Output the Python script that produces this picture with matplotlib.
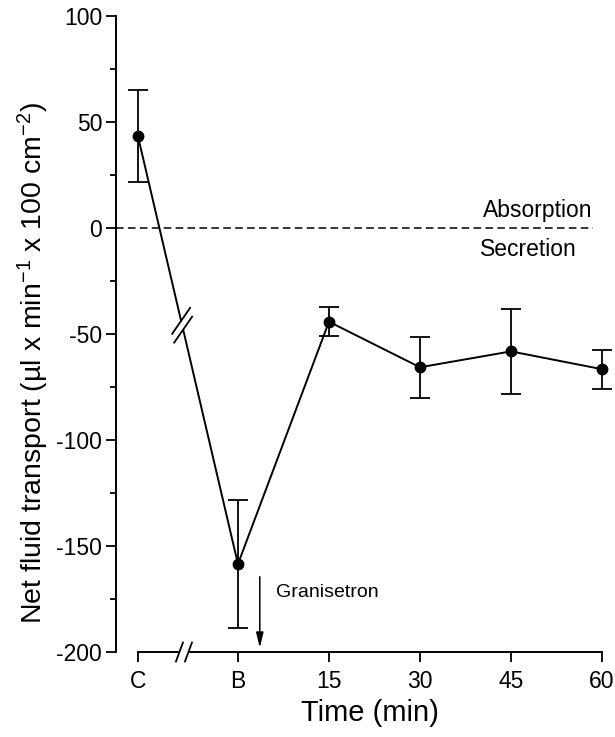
import numpy as np
import matplotlib
matplotlib.use('Agg')
from matplotlib import pyplot as plt
from matplotlib.transforms import IdentityTransform
from matplotlib.patches import Polygon

plt.rcParams['font.family'] = ['Liberation Sans', 'DejaVu Sans']
plt.rcParams['axes.unicode_minus'] = False
plt.rcParams['mathtext.fontset'] = 'custom'
plt.rcParams['mathtext.rm'] = 'Liberation Sans'
plt.rcParams['mathtext.it'] = 'Liberation Sans:italic'
plt.rcParams['mathtext.bf'] = 'Liberation Sans:bold'

# data (x in minutes after B, C placed before the axis break)
x_pos = [-16.5, 0, 15, 30, 45, 60]
x_labels = ['C', 'B', '15', '30', '45', '60']
transport = [43.5, -158.5, -44.2, -65.7, -58.2, -66.6]
sem = [21.7, 30.0, 6.7, 14.3, 20.0, 9.2]
line_break_x = -9.2
axis_break_x = -8.9
arrow_x = 3.6

fig = plt.figure(figsize=(6.15, 7.37), dpi=100)
ax = fig.add_axes([116 / 615, 1 - 652 / 737, 486 / 615, 636 / 737])
ax.set_xlim(-20.1, 60)
ax.set_ylim(-200, 100)

eb = ax.errorbar(x_pos, transport, yerr=sem, color='black', lw=1.4, marker='o',
                 markersize=7.5, capsize=7, capthick=1.3, elinewidth=1.3, zorder=3)
for art in eb.get_children():
    art.set_clip_on(False)

# zero line and labels
ax.plot([-20.1, 58.5], [0, 0], color='black', lw=1.1, linestyle=(0, (5, 2.8)))
ax.text(58.5, 5.2, 'Absorption', ha='right', va='baseline', fontsize=16.5)
ax.text(55.9, -13.2, 'Secretion', ha='right', va='baseline', fontsize=16.5)

# granisetron arrow
ax.annotate('', xy=(arrow_x, -198), xytext=(arrow_x, -164.5),
            arrowprops=dict(arrowstyle='-|>,head_length=0.9,head_width=0.22',
                            color='black', lw=1.1, shrinkA=0, shrinkB=0))
ax.text(6.3, -173.9, 'Granisetron', ha='left', va='baseline', fontsize=14)

# axes styling
for s in ['top', 'right']:
    ax.spines[s].set_visible(False)
ax.spines['left'].set_linewidth(1.4)
ax.spines['bottom'].set_linewidth(1.4)
ax.spines['left'].set_bounds(-200, 100)
ax.spines['bottom'].set_bounds(x_pos[0], x_pos[-1])
ax.set_xticks(x_pos)
ax.set_xticklabels(x_labels)
ax.set_yticks(np.arange(-200, 101, 50))
ax.set_yticks(np.arange(-175, 100, 25), minor=True)
ax.tick_params(axis='both', which='major', direction='out', length=7, width=1.3,
               labelsize=16.5)
ax.tick_params(axis='y', which='major', pad=3)
ax.tick_params(axis='x', which='major', pad=6)
ax.tick_params(axis='y', which='minor', direction='out', length=4, width=1.3)
ax.tick_params(axis='x', which='minor', bottom=False)

ax.set_xlabel('Time (min)', fontsize=21)
ax.xaxis.set_label_coords((370 - 116) / 486, -0.074)
ax.set_ylabel(r'Net fluid transport (µl x min$^{-1}$ x 100 cm$^{-2}$)', fontsize=20.5)
ax.yaxis.set_label_coords(-0.133, 0.455)

# break marks, drawn in pixel space
def break_mark(cx, cy, half, offset):
    c1 = np.array([cx, cy]) - offset
    c2 = np.array([cx, cy]) + offset
    pts = [c1 - half, c1 + half, c2 + half, c2 - half]
    ax.add_patch(Polygon(pts, closed=True, facecolor='white', edgecolor='none',
                         transform=IdentityTransform(), clip_on=False, zorder=4))
    for c in (c1, c2):
        ax.plot([c[0] - half[0], c[0] + half[0]], [c[1] - half[1], c[1] + half[1]],
                color='black', lw=1.3, transform=IdentityTransform(),
                clip_on=False, zorder=5)

frac = (line_break_x - x_pos[0]) / (x_pos[1] - x_pos[0])
break_y = transport[0] + frac * (transport[1] - transport[0])
px, py = ax.transData.transform((line_break_x, break_y))
p0 = ax.transData.transform((x_pos[0], transport[0]))
p1 = ax.transData.transform((x_pos[1], transport[1]))
d = (p1 - p0) / np.hypot(*(p1 - p0))
break_mark(px, py, np.array([9.0, 13.0]), d * 4.5)

ax_px, ax_py = ax.transData.transform((axis_break_x, -200))
break_mark(ax_px, ax_py, np.array([3.5, 9.5]), np.array([4.5, 0.0]))

fig.savefig('out.png', dpi=100)
